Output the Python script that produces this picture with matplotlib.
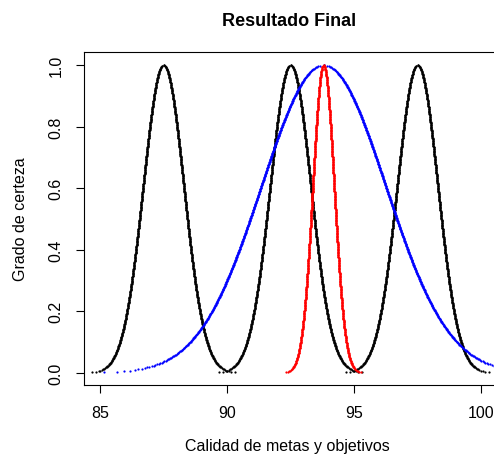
import numpy as np
import matplotlib
matplotlib.use("Agg")
import matplotlib.pyplot as plt

plt.rcParams["font.family"] = ["Liberation Sans", "DejaVu Sans"]

# Gaussian fuzzy numbers: centre and spread of each set
black_centres = [87.5, 92.5, 97.5]
black_spreads = [0.80, 0.80, 0.80]
blue_centre, blue_spread = 93.8, 2.45
red_centre, red_spread = 93.8, 0.42

# alpha-cut levels the curves are sampled at
alpha_levels = np.arange(0.002, 1.0001, 0.002)

x_ticks = [85, 90, 95, 100]
y_ticks = [0.0, 0.2, 0.4, 0.6, 0.8, 1.0]


def alpha_cut_points(centre, spread, levels):
    half = spread * np.sqrt(-2.0 * np.log(levels))
    xs = np.concatenate([centre - half, centre + half])
    ys = np.concatenate([levels, levels])
    return xs, ys


fig = plt.figure(figsize=(4.94, 4.56), dpi=100)
ax = fig.add_axes([84 / 494, 70 / 456, 411 / 494, 333 / 456])

msize = 1.6
for c, s in zip(black_centres, black_spreads):
    xs, ys = alpha_cut_points(c, s, alpha_levels)
    ax.plot(xs, ys, "o", color="black", markersize=msize, markeredgewidth=0)

xs, ys = alpha_cut_points(blue_centre, blue_spread, alpha_levels)
ax.plot(xs, ys, "o", color="blue", markersize=msize, markeredgewidth=0)

xs, ys = alpha_cut_points(red_centre, red_spread, alpha_levels)
ax.plot(xs, ys, "o", color="red", markersize=msize, markeredgewidth=0)

ax.set_xlim(84.37, 100.55)
ax.set_ylim(-0.039, 1.042)
ax.set_xticks(x_ticks)
ax.set_yticks(y_ticks)
ax.set_xticklabels([str(t) for t in x_ticks])
ax.set_yticklabels([f"{t:.1f}" for t in y_ticks], rotation=90, va="center")
ax.tick_params(axis="both", direction="out", length=5.5, width=0.8,
               labelsize=11.5, color="black")
ax.tick_params(axis="x", pad=9)
ax.tick_params(axis="y", pad=9)
for sp in ax.spines.values():
    sp.set_linewidth(0.8)
    sp.set_color("black")

ax.set_xlabel("Calidad de metas y objetivos", fontsize=11.5)
ax.xaxis.set_label_coords(0.5 - 2 / 411, -0.159)
ax.set_ylabel("Grado de certeza", fontsize=11.5)
ax.yaxis.set_label_coords(-0.137, 0.5)
ax.set_title("Resultado Final", fontsize=13, fontweight="bold", y=1.057)

fig.savefig("out.png", dpi=100)
